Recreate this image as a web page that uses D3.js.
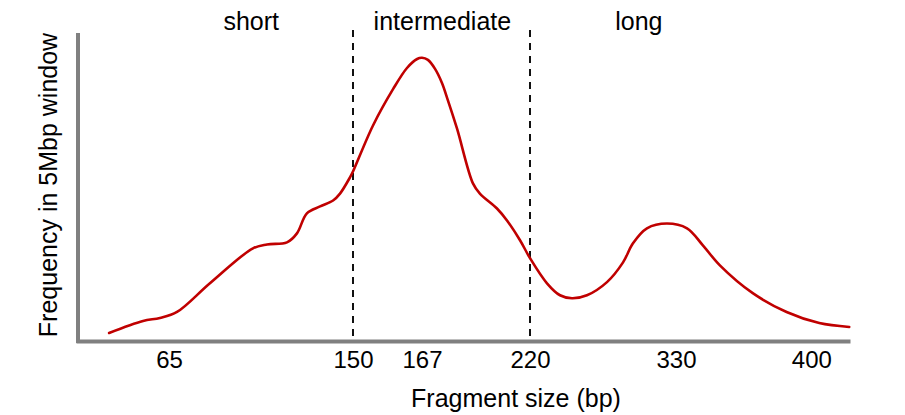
<!DOCTYPE html>
<html>
<head>
<meta charset="utf-8">
<script src="https://cdn.jsdelivr.net/npm/d3@7"></script>
<style>
	body { margin: 0; background: #fff; }
	text { font-family: "Liberation Sans", Arial, sans-serif; fill: #000; }
</style>
</head>
<body>
<svg id="chart" width="905" height="415"></svg>
<script>
// fragment size (bp) and frequency (arbitrary units)
var fragSize = [37.3, 53, 60.8, 68.7, 83.9, 103.8, 110.3, 119.5, 124.1, 128.7, 134.8, 140.8, 144, 148.6, 150,
	154.9, 159.9, 163.3, 165.8, 167, 169.9, 173.4, 176.8, 179.8, 184.2, 192, 195.4, 203.8, 208.7, 215.1, 220,
	232.8, 242.6, 251.6, 262.9, 278, 290.1, 297.6, 308.1, 323.2, 335.7, 343.9, 352.7, 369.7, 387.2, 404.1, 419.6];
var frequency = [2.7, 6.7, 7.7, 9.7, 19.3, 31, 32.3, 33, 36, 42.7, 45, 47, 49.3, 54.7, 56.7,
	72, 84.3, 91.3, 94.3, 94.7, 94, 91, 86.3, 80.3, 71, 52.7, 49.3, 44.3, 40.3, 33.7, 27.7,
	19.3, 15.3, 14.3, 15.3, 19.7, 26.3, 32.7, 37.7, 39.3, 37.7, 32, 25.3, 16, 9.7, 6, 4.7];

// x axis is not linear: each tick gets its own stretch
var xBreaks = [22, 65, 150, 167, 220, 330, 420];
var xTicks = [65, 150, 167, 220, 330, 400];
var boundaries = [150, 220];
var regionNames = ['short', 'intermediate', 'long'];
var regionCenters = [103, 177, 302];

var FONT_SIZE = 25;
var AXIS_COLOR = '#808080';
var LINE_COLOR = '#c00000';

var svg = d3.select('#chart');

var x = d3.scaleLinear()
	.domain(xBreaks)
	.range([76, 169, 353, 422, 530, 676, 850]);

var y = d3.scaleLinear()
	.domain([0, 103])
	.range([341, 33]);

var data = fragSize.map(function (d, i) { return {'size': d, 'freq': frequency[i]}; });

// axes
var xAxis = d3.axisBottom(x)
	.tickValues(xTicks)
	.tickSize(0)
	.tickPadding(10)
	.tickFormat(d3.format('d'));

var gx = svg.append('g')
	.attr('transform', 'translate(0,' + y(0) + ')')
	.call(xAxis);
gx.select('.domain').attr('stroke', AXIS_COLOR).attr('stroke-width', 4);
gx.selectAll('.tick text')
	.attr('font-size', (FONT_SIZE - 1) + 'px')
	.attr('font-family', null);

var yAxis = d3.axisLeft(y).tickValues([]).tickSizeOuter(0);
var gy = svg.append('g')
	.attr('transform', 'translate(78,0)')
	.call(yAxis);
gy.select('.domain')
	.attr('d', 'M0,' + (y(0) + 2) + 'V' + y(y.domain()[1]))
	.attr('stroke', AXIS_COLOR).attr('stroke-width', 4);

// dashed region boundaries
svg.selectAll('.boundary')
	.data(boundaries)
	.enter().append('line')
	.attr('class', 'boundary')
	.attr('x1', function (d) { return x(d); })
	.attr('x2', function (d) { return x(d); })
	.attr('y1', 30)
	.attr('y2', y(0) - 2)
	.attr('stroke', '#111')
	.attr('stroke-width', 2)
	.attr('stroke-dasharray', '7,6');

// region labels
svg.selectAll('.region')
	.data(regionNames)
	.enter().append('text')
	.attr('class', 'region')
	.attr('x', function (d, i) { return x(regionCenters[i]); })
	.attr('y', 30)
	.attr('text-anchor', 'middle')
	.attr('font-size', FONT_SIZE + 'px')
	.text(function (d) { return d; });

// density curve
var line = d3.line()
	.x(function (d) { return x(d.size); })
	.y(function (d) { return y(d.freq); })
	.curve(d3.curveCatmullRom.alpha(0.5));

svg.append('path')
	.datum(data)
	.attr('d', line)
	.attr('fill', 'none')
	.attr('stroke', LINE_COLOR)
	.attr('stroke-width', 2.6)
	.attr('stroke-linecap', 'round');

// axis titles
svg.append('text')
	.attr('x', 516)
	.attr('y', 407)
	.attr('text-anchor', 'middle')
	.attr('font-size', FONT_SIZE + 'px')
	.text('Fragment size (bp)');

svg.append('text')
	.attr('transform', 'translate(57,185) rotate(-90)')
	.attr('text-anchor', 'middle')
	.attr('font-size', FONT_SIZE + 'px')
	.text('Frequency in 5Mbp window');
</script>
</body>
</html>
